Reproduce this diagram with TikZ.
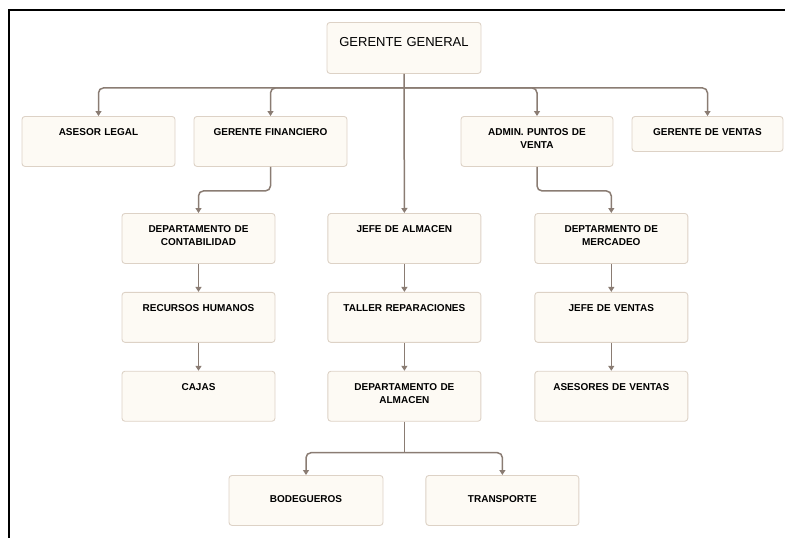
\documentclass[tikz,border=0pt]{standalone}
\usepackage{fontspec}
\setmainfont{Liberation Sans}
\usetikzlibrary{arrows.meta, positioning, calc}
\definecolor{cajafondo}{HTML}{FDFAF4}
\definecolor{cajaborde}{HTML}{DDD2C6}
\definecolor{linea}{HTML}{8A7C73}
\tikzset{
  puesto/.style={draw=cajaborde, fill=cajafondo, line width=0.9pt, rounded corners=3pt, minimum width=153pt, inner xsep=3pt, inner ysep=0pt, text width=147pt, align=center, font=\fontsize{10}{13}\selectfont\bfseries, text height=19pt, text depth=31pt},
  corto/.style={text depth=16pt},
  centrado/.style={text height=27.5pt, text depth=22.5pt},
  conector/.style={draw=linea, line width=1.5pt, rounded corners=5pt, -{Triangle[width=6pt,length=5pt]}}
}

\begin{document}
\begin{tikzpicture}[x=1pt, y=-1pt]
  \useasboundingbox (0,0) rectangle (785,538);
  \draw[line width=2pt] (9,538) -- (9,10) -- (785,10);

  \node[puesto, anchor=north, minimum width=154pt, text width=148pt, font=\fontsize{13}{15}\selectfont, text height=23.7pt, text depth=27.3pt] (gg) at (404,22) {GERENTE GENERAL};

  % primer nivel
  \node[puesto, anchor=north] (asesor) at (98.5,116) {ASESOR LEGAL};
  \node[puesto, anchor=north] (finan) at (270.5,116) {GERENTE FINANCIERO};
  \node[puesto, anchor=north, minimum width=152pt, text width=146pt] (admin) at (537,116) {ADMIN. PUNTOS DE\\VENTA};
  \node[puesto, corto, anchor=north, minimum width=151pt, text width=145pt] (ventas) at (707.5,116) {GERENTE DE VENTAS};

  % columnas
  \node[puesto, anchor=north] (contab) at (198.5,213) {DEPARTAMENTO DE\\CONTABILIDAD};
  \node[puesto, right=52pt of contab] (jalm) {JEFE DE ALMACEN};
  \node[puesto, right=53pt of jalm] (merc) {DEPTARMENTO DE\\MERCADEO};

  \node[puesto, below=28pt of contab] (rrhh) {RECURSOS HUMANOS};
  \node[puesto, below=28pt of jalm] (taller) {TALLER REPARACIONES};
  \node[puesto, below=28pt of merc] (jventas) {JEFE DE VENTAS};

  \node[puesto, below=28pt of rrhh] (cajas) {CAJAS};
  \node[puesto, below=28pt of taller] (dalm) {DEPARTAMENTO DE\\ALMACEN};
  \node[puesto, below=28pt of jventas] (asesores) {ASESORES DE VENTAS};

  % almacen
  \node[puesto, centrado, anchor=north, minimum width=154pt, text width=148pt] (bodeg) at (306,475) {BODEGUEROS};
  \node[puesto, centrado, right=42pt of bodeg] (transp) {TRANSPORTE};

  % conectores
  \coordinate (bus) at ($(gg.south)+(0,14)$);
  \draw[conector] (gg.south) -- (jalm.north);
  \foreach \n in {asesor, finan, admin, ventas}
    \draw[conector] (bus) -| (\n.north);

  \draw[conector] (finan.south) -- ++(0,24) -| (contab.north);
  \draw[conector] (admin.south) -- ++(0,24) -| (merc.north);

  \foreach \a/\b in {contab/rrhh, rrhh/cajas, jalm/taller, taller/dalm, merc/jventas, jventas/asesores}
    \draw[conector] (\a.south) -- (\b.north);

  \coordinate (bus2) at ($(dalm.south)+(0,31)$);
  \draw[conector, -] (dalm.south) -- (bus2);
  \draw[conector] (bus2) -| (bodeg.north);
  \draw[conector] (bus2) -| (transp.north);
\end{tikzpicture}
\end{document}
